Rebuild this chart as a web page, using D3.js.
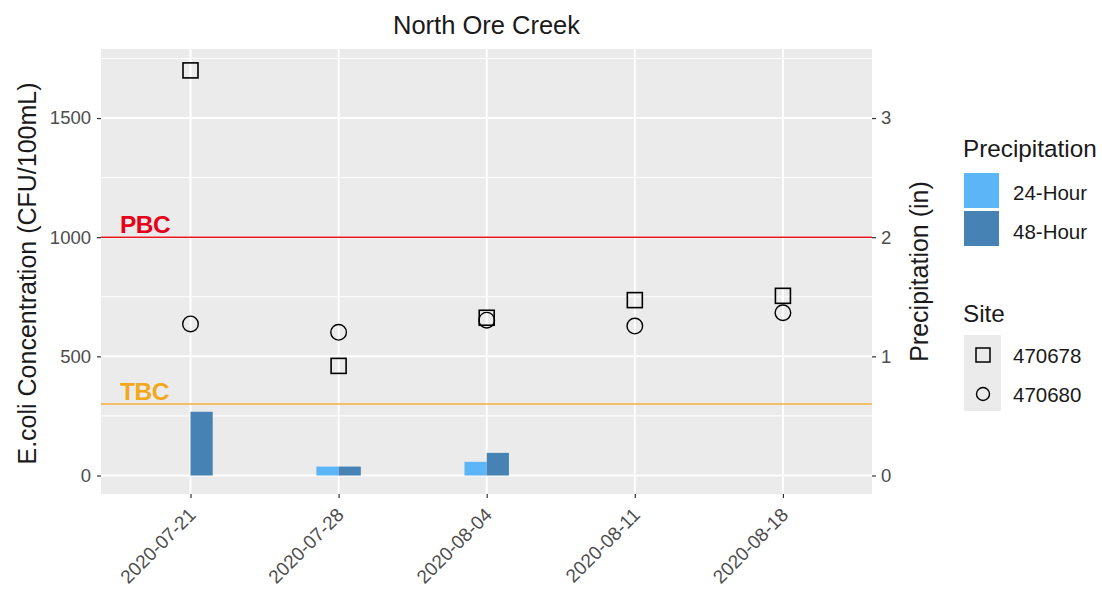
<!DOCTYPE html>
<html><head><meta charset="utf-8">
<script src="https://cdn.jsdelivr.net/npm/d3@7"></script>
<style>body{margin:0;background:#fff;} text{font-family:"Liberation Sans",Arial,sans-serif;}</style>
</head><body><svg id="c" width="1102" height="597"></svg>
<script>
const dates = ["2020-07-21","2020-07-28","2020-08-04","2020-08-11","2020-08-18"];
const site470678 = [1700, 460, 662, 736, 754];
const site470680 = [636, 601, 652, 627, 683];
const precip24 = [0, 0.075, 0.115, 0, 0];
const precip48 = [0.535, 0.075, 0.19, 0, 0];
const yTicks = [0, 500, 1000, 1500];
const y2Ticks = [0, 1, 2, 3];
const thresholds = [{name:"PBC", value:1000, color:"#e8191f", text:"#e6001a"}, {name:"TBC", value:300, color:"#f2b13c", text:"#f2a81c"}];
const precipKeys = ["24-Hour","48-Hour"];
const precipColors = ["#5cb5f7","#4682b4"];
const siteKeys = ["470678","470680"];

const svg = d3.select("#c");
const P = {l:101, r:872, t:49, b:494};
const parse = d3.utcParse("%Y-%m-%d");
const day = 86400000;
const dts = dates.map(parse);
const x = d3.scaleUtc().domain([new Date(+dts[0]-4.23*day), new Date(+dts[4]+4.21*day)]).range([P.l, P.r]);
const y = d3.scaleLinear().domain([-77.6, 1789.8]).range([P.b, P.t]);
const secScale = 500;
const y2 = d3.scaleLinear().domain([-77.6/secScale, 1789.8/secScale]).range([P.b, P.t]);

// panel
svg.append("rect").attr("x",P.l).attr("y",P.t).attr("width",P.r-P.l).attr("height",P.b-P.t).attr("fill","#ebebeb");
const minor = [250, 750, 1250, 1750];
svg.selectAll(".gmin").data(minor).join("line").attr("x1",P.l).attr("x2",P.r).attr("y1",d=>y(d)).attr("y2",d=>y(d)).attr("stroke","#fff").attr("stroke-width",1);
svg.selectAll(".gmaj").data(yTicks).join("line").attr("x1",P.l).attr("x2",P.r).attr("y1",d=>y(d)).attr("y2",d=>y(d)).attr("stroke","#fff").attr("stroke-width",2);
svg.selectAll(".gx").data(dts).join("line").attr("y1",P.t).attr("y2",P.b).attr("x1",d=>x(d)).attr("x2",d=>x(d)).attr("stroke","#fff").attr("stroke-width",2);

// bars
const bw = x(new Date(+dts[0]+1.05*day)) - x(dts[0]);
const bars = [];
dts.forEach((d,i)=>{ bars.push({d, v:precip24[i], k:0}); bars.push({d, v:precip48[i], k:1}); });
svg.selectAll(".bar").data(bars.filter(b=>b.v>0)).join("rect")
  .attr("x", b => b.k===0 ? x(b.d)-bw : x(b.d))
  .attr("width", bw)
  .attr("y", b => y2(b.v)).attr("height", b => y2(0)-y2(b.v))
  .attr("fill", b => precipColors[b.k]);

// threshold lines
thresholds.forEach(t=>{
  svg.append("line").attr("x1",P.l).attr("x2",P.r).attr("y1",y(t.value)).attr("y2",y(t.value)).attr("stroke",t.color).attr("stroke-width",1.6);
  svg.append("text").attr("x",120).attr("y",y(t.value)-4).attr("fill",t.text).attr("font-weight","bold").attr("font-size",24.5).attr("letter-spacing",-0.5).text(t.name);
});

// points
const pts = dts.map((d,i)=>({d, v:site470678[i]}));
svg.selectAll(".sq").data(pts).join("rect")
  .attr("x", p=>x(p.d)-7.5).attr("y", p=>y(p.v)-7.5).attr("width",15).attr("height",15)
  .attr("fill","none").attr("stroke","#000").attr("stroke-width",1.6);
const cps = dts.map((d,i)=>({d, v:site470680[i]}));
svg.selectAll(".ci").data(cps).join("circle")
  .attr("cx", p=>x(p.d)).attr("cy", p=>y(p.v)).attr("r",7.8)
  .attr("fill","none").attr("stroke","#000").attr("stroke-width",1.4);

// left axis
const ga = svg.append("g").attr("transform",`translate(${P.l},0)`).call(d3.axisLeft(y).tickValues(yTicks).tickFormat(d3.format("d")).tickSize(4).tickPadding(6));
// right axis
const gb = svg.append("g").attr("transform",`translate(${P.r},0)`).call(d3.axisRight(y2).tickValues(y2Ticks).tickFormat(d3.format("d")).tickSize(4).tickPadding(5));
// x axis
const gx = svg.append("g").attr("transform",`translate(0,${P.b})`).call(d3.axisBottom(x).tickValues(dts).tickFormat(d3.utcFormat("%Y-%m-%d")).tickSize(4));
[ga,gb,gx].forEach(g=>{
  g.select(".domain").remove();
  g.selectAll(".tick line").attr("stroke","#333").attr("stroke-width",1.2);
  g.selectAll(".tick text").attr("fill","#4d4d4d").attr("font-size",18.5).attr("font-family","Liberation Sans, Arial, sans-serif");
});
gx.selectAll(".tick text").attr("text-anchor","end").attr("dy",0).attr("y",0).attr("font-size",19)
  .attr("transform","translate(6,22) rotate(-45)");

// titles
svg.append("text").attr("x",(P.l+P.r)/2).attr("y",34).attr("text-anchor","middle").attr("font-size",25.5).attr("fill","#1a1a1a").text("North Ore Creek");
svg.append("text").attr("transform",`translate(36,${(P.t+P.b)/2+2}) rotate(-90)`).attr("text-anchor","middle").attr("font-size",25).attr("fill","#1a1a1a").text("E.coli Concentration (CFU/100mL)");
svg.append("text").attr("transform",`translate(928,${(P.t+P.b)/2}) rotate(-90)`).attr("text-anchor","middle").attr("font-size",25).attr("fill","#1a1a1a").text("Precipitation (in)");

// legends
const lg = svg.append("g");
lg.append("text").attr("x",963).attr("y",157).attr("font-size",24.3).attr("fill","#1a1a1a").text("Precipitation");
precipKeys.forEach((k,i)=>{
  lg.append("rect").attr("x",964).attr("y",173+i*38).attr("width",35).attr("height",35).attr("fill",precipColors[i]);
  lg.append("text").attr("x",1013).attr("y",200+i*39).attr("font-size",20.5).attr("fill","#1a1a1a").text(k);
});
lg.append("text").attr("x",963).attr("y",322).attr("font-size",24.3).attr("fill","#1a1a1a").text("Site");
lg.append("rect").attr("x",964).attr("y",335).attr("width",37).attr("height",76).attr("fill","#ebebeb");
lg.append("rect").attr("x",976).attr("y",348).attr("width",14).attr("height",14).attr("fill","none").attr("stroke","#000").attr("stroke-width",1.5);
lg.append("circle").attr("cx",983).attr("cy",394).attr("r",6.5).attr("fill","none").attr("stroke","#000").attr("stroke-width",1.4);
siteKeys.forEach((k,i)=>{
  lg.append("text").attr("x",1013).attr("y",363+i*39).attr("font-size",20.5).attr("fill","#1a1a1a").text(k);
});
</script></body></html>
